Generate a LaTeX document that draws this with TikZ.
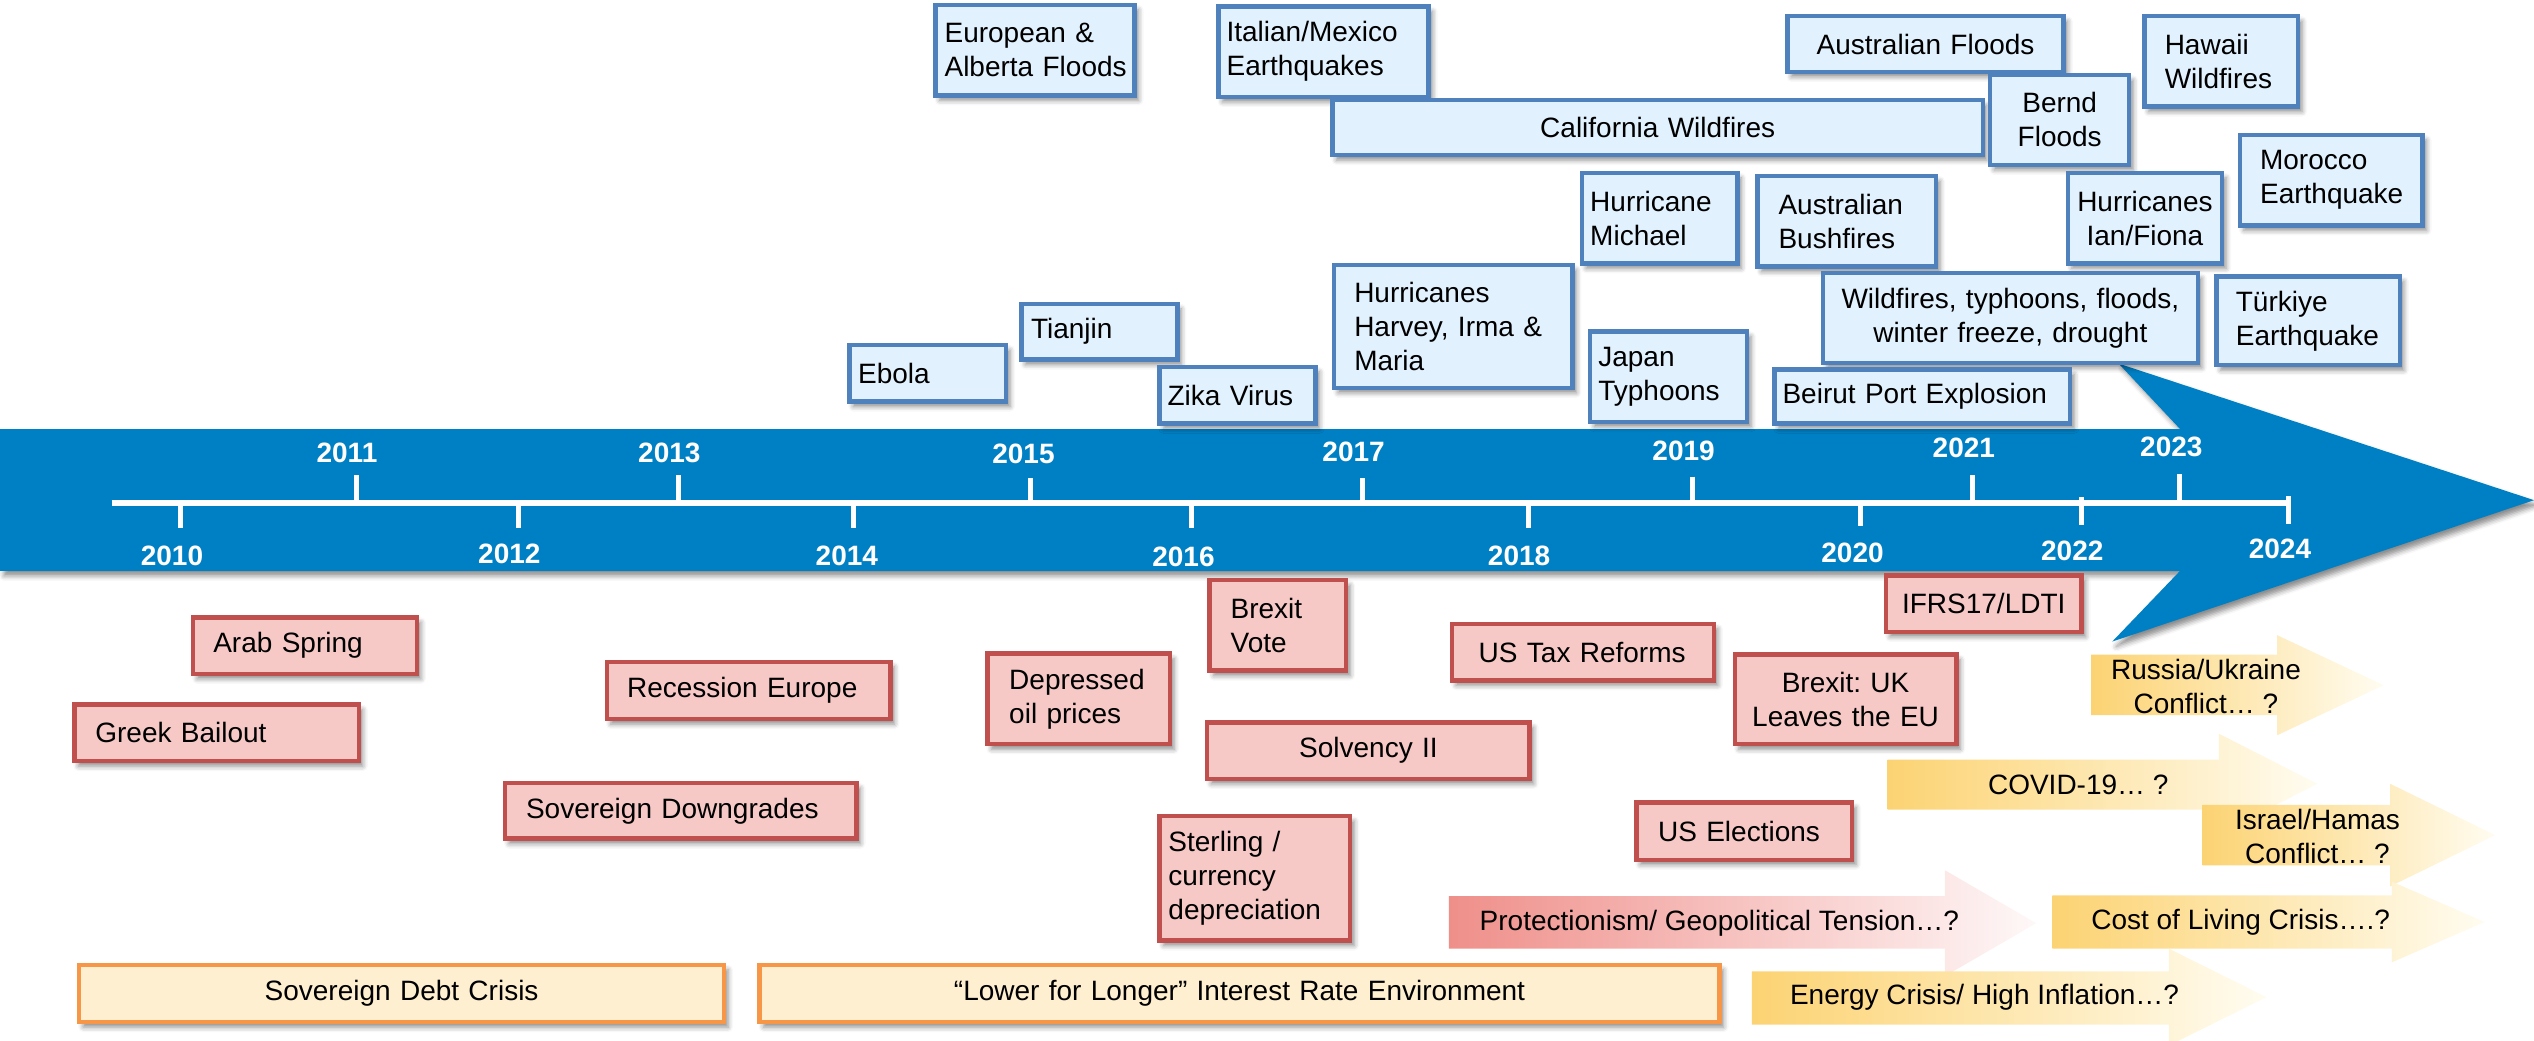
\documentclass[tikz,border=0pt]{standalone}
\usepackage{fontspec}
\setmainfont{Liberation Sans}
\usetikzlibrary{shadows.blur}
\frenchspacing
\lefthyphenmin=64
\definecolor{bandblue}{HTML}{0080C4}
\definecolor{bfill}{HTML}{E1F1FD}
\definecolor{bline}{HTML}{4F81BD}
\definecolor{rfill}{HTML}{F6C9C6}
\definecolor{rline}{HTML}{C0504D}
\definecolor{ofill}{HTML}{FEEFD0}
\definecolor{oline}{HTML}{F79646}
\definecolor{yL}{HTML}{FCD373}
\definecolor{yM}{HTML}{FEF0C4}
\definecolor{yR}{HTML}{FFFCF0}
\definecolor{pL}{HTML}{EF8F8A}
\definecolor{pM}{HTML}{F8D0CE}
\definecolor{pR}{HTML}{FEF8F8}
\tikzset{
  softshadow/.style={blur shadow={shadow xshift=4pt, shadow yshift=-5pt, shadow blur radius=5pt, shadow opacity=45}},
  boxbase/.style={rectangle, line width=4.5pt, font=\fontsize{28}{34}\selectfont, text=black, softshadow},
  bluebox/.style={boxbase, draw=bline, fill=bfill},
  redbox/.style={boxbase, draw=rline, fill=rfill},
  orangebox/.style={boxbase, draw=oline, fill=ofill},
  yearlbl/.style={font=\fontsize{28}{34}\selectfont\bfseries, text=white, inner sep=0pt},
  arrowtxt/.style={font=\fontsize{28}{34}\selectfont, align=center, inner sep=0pt, text=black},
  yshade/.style={left color=yL, middle color=yM, right color=yR},
  pshade/.style={left color=pL, middle color=pM, right color=pR},
  tickline/.style={white, line width=5pt},
}
% name, style, x1, y1, x2, y2, inset, align, text
\newcommand\bx[9]{%
  \node[#2, inner xsep={#7*1.61607pt}, inner ysep=0pt,
        text width={(#5-#3-2*#7)*1.61607pt}, align=#8,
        minimum height={(#6-#4)*1.61607pt}] (#1) at ({(#3+#5)/2},{(#4+#6)/2}) {#9};}
% shading, x1, y1, y2, xhead, yhead1, yhead2, xtip
\newcommand\garrow[8]{%
  \shade[#1] (#2,#3) -- (#5,#3) -- (#5,#6) -- (#8,{(#6+#7)/2}) -- (#5,#7) -- (#5,#4) -- (#2,#4) -- cycle;}
\begin{document}
\begin{tikzpicture}[x=1.61607pt,y=-1.61607pt]
\useasboundingbox (0,0) rectangle (1568,644);

% main timeline arrow
\fill[bandblue, softshadow] (0,265.5) -- (1349,265.5) -- (1311,225) -- (1568,309.5) -- (1307,397) -- (1349,353.2) -- (0,353.2) -- cycle;

% axis
\draw[white, line width=6pt] (69,311.5) coordinate (tl0) -- (1416,311.5) coordinate (tl1);
\foreach \x/\a/\b in {111.8/311.5/327, 220.6/294/311.5, 320.6/311.5/327, 419.6/294/311.5,
  528.4/311.5/327, 637.7/296/311.5, 737.2/311.5/327, 843/296/311.5, 945.8/311.5/327,
  1047.2/295/311.5, 1151.1/311.5/325.6, 1220.5/294/311.5, 1288/307.5/325, 1348.7/293.5/311.5, 1416/307/324}
  \draw[tickline] (\x,\a) -- (\x,\b);
\foreach \x/\y/\t in {106.4/344/2010, 214.7/280/2011, 315.2/343/2012, 414.2/280/2013,
  524/344/2014, 633.3/281/2015, 732.3/344.7/2016, 837.6/279.8/2017, 940/343.7/2018,
  1041.8/279.1/2019, 1146.3/342.2/2020, 1215.2/277.1/2021, 1282.3/340.8/2022,
  1343.6/276.6/2023, 1410.8/339.8/2024}
  \node[yearlbl] (y\t) at (\x,\y) {\t};

% blue boxes (catastrophes)
\bx{eu}{bluebox}{579}{3}{702}{59}{5.5}{left}{\mbox{European \&}\\\mbox{Alberta Floods}}
\bx{it}{bluebox}{754}{4}{884}{60}{5}{left}{Italian/Mexico\\Earthquakes}
\bx{ca}{bluebox}{824.5}{62}{1227}{96}{2}{center}{California Wildfires}
\bx{af}{bluebox}{1106}{10}{1277}{44.5}{2}{center}{Australian Floods}
\bx{bf}{bluebox}{1231.5}{46.5}{1317.5}{102}{2}{center}{Bernd\\Floods}
\bx{hw}{bluebox}{1327}{10}{1422}{66}{12.5}{left}{Hawaii\\Wildfires}
\bx{mo}{bluebox}{1386}{83.5}{1499}{139.5}{12.5}{left}{Morocco\\Earthquake}
\bx{hm}{bluebox}{979}{107}{1075}{163}{5}{left}{Hurricane\\Michael}
\bx{ab}{bluebox}{1087.5}{109}{1198}{165}{13}{left}{Australian\\Bushfires}
\bx{if}{bluebox}{1279.5}{107}{1375}{163}{2}{center}{Hurricanes\\Ian/Fiona}
\bx{wf}{bluebox}{1128}{169}{1360}{224.5}{2}{center}{Wildfires, typhoons, floods,\\winter freeze, drought}
\bx{tk}{bluebox}{1371.5}{171}{1485}{226}{12}{left}{Türkiye\\Earthquake}
\bx{tj}{bluebox}{632}{188}{728.5}{222.5}{6}{left}{Tianjin}
\bx{eb}{bluebox}{525.5}{213.5}{622.5}{248.5}{5.5}{left}{Ebola}
\bx{zk}{bluebox}{717.5}{227}{814}{262}{5}{left}{\mbox{Zika Virus}}
\bx{hh}{bluebox}{825.5}{164}{973}{240}{12.5}{left}{Hurricanes\\\mbox{Harvey, Irma \&}\\Maria}
\bx{jt}{bluebox}{984}{205}{1081}{261}{5}{left}{Japan\\Typhoons}
\bx{bp}{bluebox}{1098}{228.5}{1281}{262}{5}{left}{\mbox{Beirut Port Explosion}}

% red boxes (events)
\bx{as}{redbox}{119.5}{382}{258}{417}{12.5}{left}{\mbox{Arab Spring}}
\bx{gb}{redbox}{46}{436}{222}{471}{13}{left}{\mbox{Greek Bailout}}
\bx{re}{redbox}{375.5}{409.5}{551}{445}{12.5}{left}{\mbox{Recession Europe}}
\bx{sd}{redbox}{312.5}{484.5}{530}{519}{13}{left}{\mbox{Sovereign Downgrades}}
\bx{do}{redbox}{611}{404.5}{724}{460.5}{13.5}{left}{Depressed\\\mbox{oil prices}}
\bx{bv}{redbox}{748.5}{359}{833}{415}{13}{left}{Brexit\\Vote}
\bx{tr}{redbox}{898.5}{386}{1060.5}{421}{16.5}{left}{\mbox{US Tax Reforms}}
\bx{bx}{redbox}{1073.5}{405}{1210.5}{460.5}{2}{center}{Brexit: UK\\Leaves the EU}
\bx{s2}{redbox}{747}{447}{946.5}{482}{2}{center}{Solvency II}
\bx{sc}{redbox}{717.5}{505}{835.5}{582}{5.5}{left}{\mbox{Sterling /}\\currency\\depreciation}
\bx{ue}{redbox}{1012.5}{496.5}{1146}{532}{13.5}{left}{\mbox{US Elections}}
\bx{ir}{redbox}{1167}{356}{1288}{391}{2}{center}{IFRS17/LDTI}

% orange boxes (environments)
\bx{sdc}{orangebox}{49}{597}{448}{632.5}{2}{center}{Sovereign Debt Crisis}
\bx{ll}{orangebox}{470}{597}{1064}{632.5}{2}{center}{“Lower for Longer” Interest Rate Environment}

% gradient arrows (emerging risks)
\garrow{yshade}{1294}{405}{442.5}{1409}{393}{455}{1475}
\node[arrowtxt] (ru) at (1365,424.5) {Russia/Ukraine\\Conflict… ?};
\garrow{yshade}{1168}{470}{501}{1373}{454}{516}{1434}
\node[arrowtxt] (cv) at (1286,485.5) {COVID-19… ?};
\garrow{yshade}{1363}{498}{535.5}{1479}{485}{548.5}{1544}
\node[arrowtxt] (ih) at (1434,517.5) {Israel/Hamas\\Conflict… ?};
\garrow{pshade}{896.5}{554.5}{587}{1203.5}{538.5}{604}{1260}
\node[arrowtxt, anchor=west] (pg) at (915.5,571) {Protectionism/ Geopolitical Tension…?};
\garrow{yshade}{1270}{554}{587}{1480}{545.5}{595.5}{1537.5}
\node[arrowtxt] (cl) at (1386.5,570.5) {Cost of Living Crisis….?};
\garrow{yshade}{1084}{601}{634}{1342}{587}{647}{1402.5}
\node[arrowtxt] (ec) at (1228,617) {Energy Crisis/ High Inflation…?};
\end{tikzpicture}
\end{document}
